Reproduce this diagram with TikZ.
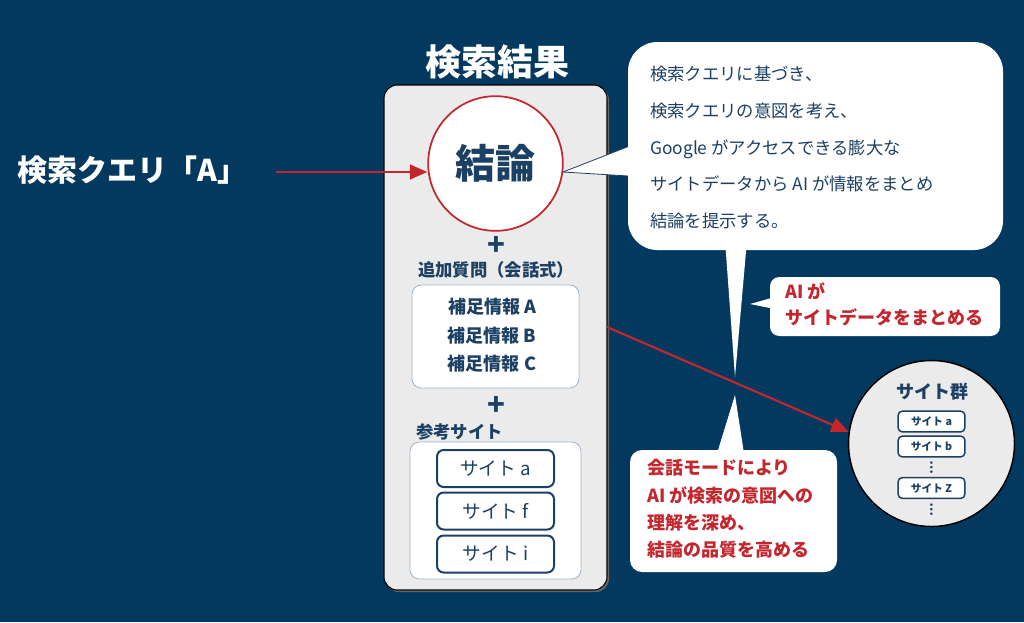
\documentclass[tikz,border=0pt]{standalone}
\usepackage{fontspec}
\setmainfont{Noto Sans CJK JP}
\usetikzlibrary{arrows.meta}
\definecolor{bgnavy}{RGB}{3,57,94}
\definecolor{txtnavy}{RGB}{28,64,100}
\definecolor{accred}{RGB}{196,38,46}
\definecolor{panelgray}{RGB}{235,235,235}
\definecolor{boxline}{RGB}{160,180,200}
\tikzset{
  bubble/.style={fill=white, draw=none},
  sitebox/.style={draw=txtnavy, line width=1.5pt, fill=white, rounded corners=5pt, minimum width=87.75pt, minimum height=27.75pt, inner sep=0pt, text=txtnavy, font=\fontsize{14}{16}\selectfont},
  minibox/.style={draw=txtnavy, line width=1.1pt, fill=white, rounded corners=3pt, minimum width=50pt, minimum height=15.5pt, inner sep=0pt, text=txtnavy, font=\bfseries\fontsize{8}{9}\selectfont},
  redarrow/.style={draw=accred, line width=1.6pt, -{Triangle[length=13pt,width=11pt]}},
  plus/.style={text=txtnavy, font=\bfseries\fontsize{22}{22}\selectfont, inner sep=0pt},
  vdots/.style={text=txtnavy, font=\bfseries\fontsize{9}{9}\selectfont, inner sep=0pt}
}
\begin{document}
\begin{tikzpicture}[x=0.75pt,y=-0.75pt]
\useasboundingbox (0,0) rectangle (1024,622);
\fill[bgnavy] (0,0) rectangle (1024,622);

% title
\node[text=white, font=\bfseries\fontsize{27}{30}\selectfont, inner sep=0pt] (title) at (497,62) {検索結果};

% panel
\fill[black!60, rounded corners=10pt] (386,87) rectangle (609,592);
\node[draw=black, line width=0.8pt, fill=panelgray, rounded corners=10pt, minimum width=167.25pt, minimum height=378.75pt, inner sep=0pt] (panel) at (495.5,337.5) {};

% conclusion circle
\node[circle, draw=accred, line width=1.3pt, fill=white, minimum size=101pt, inner sep=0pt, text=txtnavy, font=\bfseries\fontsize{30}{32}\selectfont] (concl) at (495.5,163.5) {結論};

\node[plus] (plus1) at (496,246) {+};
\node[text=txtnavy, font=\bfseries\fontsize{13}{15}\selectfont, inner sep=0pt] (qlabel) at (496,270) {追加質問（会話式）};

\node[draw=boxline, line width=0.6pt, fill=white, rounded corners=7pt, minimum width=125.25pt, minimum height=77.25pt, inner sep=0pt] (suppbox) at (495.5,336.5) {};
\node[text=txtnavy, font=\bfseries\fontsize{13.5}{21.4}\selectfont, align=center, inner sep=0pt] (supptext) at (492,335.5) {補足情報 A\\補足情報 B\\補足情報 C};

\node[plus] (plus2) at (496,406) {+};
\node[text=txtnavy, font=\bfseries\fontsize{13}{15}\selectfont, inner sep=0pt, anchor=west] (reflabel) at (416,432) {参考サイト};

\node[draw=boxline, line width=0.6pt, fill=white, rounded corners=7pt, minimum width=128.25pt, minimum height=102.75pt, inner sep=0pt] (refbox) at (495.5,510.5) {};
\node[sitebox] (sa) at (495.5,468.5) {サイト a};
\node[sitebox] (sf) at (495.5,511) {サイト f};
\node[sitebox] (si) at (495.5,554) {サイト i};

% query
\node[text=white, font=\bfseries\fontsize{22.5}{24}\selectfont, inner sep=0pt, anchor=west] (query) at (17,170) {検索クエリ「A」};
\coordinate (qstart) at (276,172);
\draw[redarrow] (qstart) -- (concl.west |- qstart);

% bubble 1
\filldraw[bubble, draw=txtnavy, line width=0.6pt] (645,140) -- (563,172) -- (645,177) -- cycle;
\fill[bubble] (725,240) -- (735,377) -- (747,240) -- cycle;
\node[bubble, rounded corners=22pt, minimum width=281.25pt, minimum height=156pt, inner sep=0pt] (bub1) at (815.5,146) {};
\node[text=txtnavy, font=\fontsize{13}{27.5}\selectfont, align=left, inner sep=0pt, anchor=west] (bub1text) at (650,147.5) {検索クエリに基づき、\\検索クエリの意図を考え、\\Google がアクセスできる膨大な\\サイトデータから AI が情報をまとめ\\結論を提示する。};

% bubble 2
\fill[bubble] (775,297) -- (750,304) -- (775,309) -- cycle;
\node[bubble, rounded corners=7pt, minimum width=172.5pt, minimum height=44.25pt, inner sep=0pt] (bub2) at (885,306.5) {};
\node[text=accred, font=\bfseries\fontsize{13.5}{19}\selectfont, align=left, inner sep=0pt, anchor=west] (bub2text) at (785,304.5) {AI が\\サイトデータをまとめる};

% bubble 3
\fill[bubble] (715,460) -- (735,395) -- (745,460) -- cycle;
\node[bubble, rounded corners=9pt, minimum width=155.25pt, minimum height=91.5pt, inner sep=0pt] (bub3) at (733.5,511) {};
\node[text=accred, font=\bfseries\fontsize{13.5}{20.5}\selectfont, align=left, inner sep=0pt, anchor=west] (bub3text) at (647,509) {会話モードにより\\AI が検索の意図への\\理解を深め、\\結論の品質を高める};

% site group circle
\node[circle, draw=black, line width=1.1pt, fill=panelgray, minimum size=124.5pt, inner sep=0pt] (sites) at (931.5,443.5) {};
\node[text=txtnavy, font=\bfseries\fontsize{13.5}{15}\selectfont, inner sep=0pt] (sitestitle) at (932,392) {サイト群};
\node[minibox] (ma) at (931.5,421.5) {サイト a};
\node[minibox] (mb) at (931.5,446.5) {サイト b};
\node[vdots] (d1) at (931.5,467.5) {\rotatebox{90}{…}};
\node[minibox] (mz) at (931.5,488) {サイト Z};
\node[vdots] (d2) at (931.5,510) {\rotatebox{90}{…}};

% red arrow panel -> sites
\coordinate (pstart) at (607,327);
\draw[redarrow] (pstart) -- (sites.172);
\end{tikzpicture}
\end{document}
